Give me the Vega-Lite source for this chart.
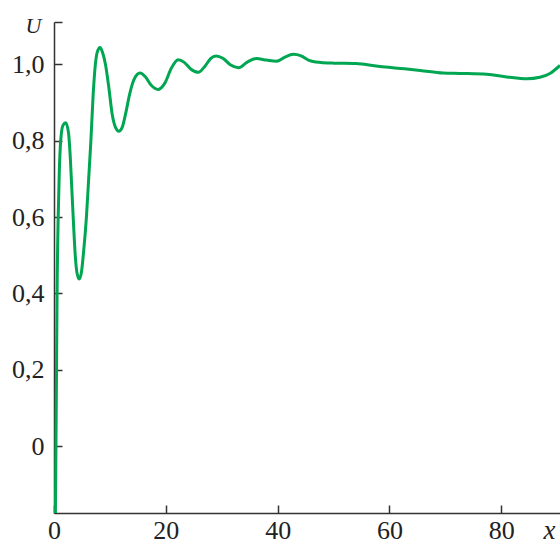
{
  "$schema": "https://vega.github.io/schema/vega-lite/v6.json",
  "width": 506,
  "height": 491,
  "autosize": {"type": "none"},
  "padding": {"left": 54, "top": 22, "right": 0, "bottom": 26},
  "background": "white",
  "config": {
    "view": {"stroke": null},
    "axis": {
      "grid": false,
      "domainColor": "#333333",
      "domainWidth": 1.5,
      "tickColor": "#333333",
      "tickWidth": 1.5,
      "tickSize": -8,
      "labelFont": "Liberation Serif",
      "labelFontSize": 26,
      "labelColor": "#222222",
      "labelFlush": false,
      "labelOverlap": false,
      "titleFont": "Liberation Serif",
      "titleFontSize": 22,
      "titleFontStyle": "italic",
      "titleFontWeight": "normal",
      "titleColor": "#222222"
    }
  },
  "data": {
    "values": [
      {"x": 0.25, "U": -0.175},
      {"x": 0.35, "U": 0.0},
      {"x": 0.45, "U": 0.2},
      {"x": 0.55, "U": 0.4},
      {"x": 0.75, "U": 0.6},
      {"x": 0.95, "U": 0.72},
      {"x": 1.2, "U": 0.8},
      {"x": 1.6, "U": 0.84},
      {"x": 2.1, "U": 0.847},
      {"x": 2.6, "U": 0.82},
      {"x": 2.9, "U": 0.76},
      {"x": 3.2, "U": 0.67},
      {"x": 3.5, "U": 0.58},
      {"x": 3.8, "U": 0.5},
      {"x": 4.1, "U": 0.455},
      {"x": 4.5, "U": 0.438},
      {"x": 4.9, "U": 0.455},
      {"x": 5.3, "U": 0.51},
      {"x": 5.8, "U": 0.6},
      {"x": 6.2, "U": 0.7},
      {"x": 6.6, "U": 0.8},
      {"x": 7.0, "U": 0.92},
      {"x": 7.4, "U": 1.0},
      {"x": 7.8, "U": 1.035},
      {"x": 8.25, "U": 1.044},
      {"x": 8.7, "U": 1.03},
      {"x": 9.2, "U": 1.0},
      {"x": 9.8, "U": 0.94},
      {"x": 10.4, "U": 0.87},
      {"x": 11.0, "U": 0.835},
      {"x": 11.6, "U": 0.825},
      {"x": 12.2, "U": 0.835},
      {"x": 12.8, "U": 0.87},
      {"x": 13.5, "U": 0.92},
      {"x": 14.3, "U": 0.96},
      {"x": 15.4, "U": 0.977},
      {"x": 16.3, "U": 0.968},
      {"x": 17.4, "U": 0.945},
      {"x": 18.6, "U": 0.934},
      {"x": 19.8, "U": 0.95},
      {"x": 21.0, "U": 0.99},
      {"x": 22.2, "U": 1.012},
      {"x": 23.3, "U": 1.005},
      {"x": 24.5, "U": 0.987},
      {"x": 25.8, "U": 0.979},
      {"x": 27.0, "U": 0.995},
      {"x": 28.0, "U": 1.015},
      {"x": 29.0, "U": 1.022},
      {"x": 30.2, "U": 1.016},
      {"x": 31.6, "U": 0.998},
      {"x": 33.0, "U": 0.991},
      {"x": 34.5, "U": 1.005},
      {"x": 36.2, "U": 1.015},
      {"x": 38.0, "U": 1.011},
      {"x": 39.8, "U": 1.008},
      {"x": 41.3, "U": 1.019},
      {"x": 42.8, "U": 1.026},
      {"x": 44.2, "U": 1.022},
      {"x": 45.5, "U": 1.011},
      {"x": 46.8, "U": 1.006},
      {"x": 50.0, "U": 1.003},
      {"x": 54.0, "U": 1.002},
      {"x": 58.3, "U": 0.994},
      {"x": 62.0, "U": 0.989},
      {"x": 65.5, "U": 0.984},
      {"x": 69.6, "U": 0.977},
      {"x": 72.6, "U": 0.976},
      {"x": 77.4, "U": 0.974},
      {"x": 81.0, "U": 0.967},
      {"x": 84.6, "U": 0.962},
      {"x": 86.9, "U": 0.966},
      {"x": 88.7, "U": 0.976},
      {"x": 90.5, "U": 0.997}
    ]
  },
  "mark": {"type": "line", "color": "#00a651", "strokeWidth": 3, "interpolate": "monotone", "clip": true},
  "encoding": {
    "x": {
      "field": "x",
      "type": "quantitative",
      "scale": {"domain": [0, 90.5], "nice": false, "zero": false},
      "axis": {
        "values": [0, 20, 40, 60, 80],
        "format": "d",
        "labelPadding": 12.5,
        "title": "x",
        "titleFontSize": 27,
        "titleX": 495,
        "titleY": 25,
        "titleAlign": "center",
        "titleBaseline": "alphabetic",
        "titleAngle": 0
      }
    },
    "y": {
      "field": "U",
      "type": "quantitative",
      "scale": {"domain": [-0.1746, 1.1107], "nice": false, "zero": false},
      "axis": {
        "values": [0, 0.2, 0.4, 0.6, 0.8, 1.0, 1.1107],
        "labelExpr": "abs(datum.value) < 1e-9 ? '0' : (datum.value > 1.05 ? '' : replace(format(datum.value, '.1f'), '.', ','))",
        "labelPadding": 18,
        "title": "U",
        "titleX": -21,
        "titleY": 10.3,
        "titleAlign": "center",
        "titleBaseline": "alphabetic",
        "titleAngle": 0
      }
    }
  }
}
